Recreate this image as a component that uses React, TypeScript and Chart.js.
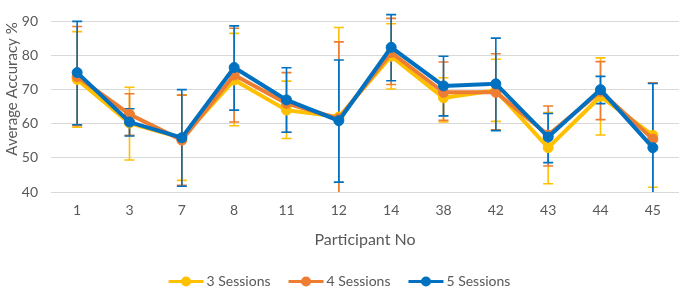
import React, { useEffect, useRef } from "react";
import { Chart, registerables } from "chart.js";

Chart.register(...registerables);

const categories = ["1", "3", "7", "8", "11", "12", "14", "38", "42", "43", "44", "45"];
const seriesNames = ["3 Sessions", "4 Sessions", "5 Sessions"];
const seriesColors = ["#FFC000", "#ED7D31", "#0070C0"];

const s3 = [73, 60.2, 55.8, 72.8, 64, 62, 79.8, 67.6, 69.8, 53, 68, 56.6];
const s4 = [73.8, 62.8, 55.2, 74.3, 66, 61.5, 80.9, 69.2, 69.2, 56.7, 69.5, 55.5];
const s5 = [75, 60.5, 55.9, 76.5, 67, 60.9, 82.4, 71.1, 71.7, 56.1, 70, 53];

const s3Hi = [87, 70.7, 68.5, 86.5, 72.5, 88.2, 89.3, 73.5, 78.9, 63.3, 79.3, 72];
const s3Lo = [59, 49.4, 43.4, 59.4, 55.7, 35, 70.2, 60.5, 60.7, 42.4, 56.7, 41.4];
const s4Hi = [88.5, 68.8, 68.4, 88, 75, 84, 90.9, 78.1, 80.5, 65.2, 78.2, 72];
const s4Lo = [59.5, 56.6, 42, 60.5, 57.5, 38, 71.5, 61, 58.2, 47.6, 61.2, 39];
const s5Hi = [90, 64.4, 70, 88.7, 76.4, 78.7, 92, 79.8, 85.1, 63, 73.9, 71.8];
const s5Lo = [59.7, 56.4, 41.7, 64, 57.5, 42.9, 72.6, 62.3, 58, 48.6, 65.9, 38];

const yTicks = [40, 50, 60, 70, 80, 90];

const values = [s3, s4, s5];
const highs = [s3Hi, s4Hi, s5Hi];
const lows = [s3Lo, s4Lo, s5Lo];

const FONT = "Lato, 'Open Sans', sans-serif";
const TEXT = "#595959";

const errorBarPlugin = {
  id: "errorBars",
  beforeDatasetsDraw(chart: any) {
    const { ctx, chartArea } = chart;
    const y = chart.scales.y;
    ctx.save();
    ctx.beginPath();
    ctx.rect(0, 0, chart.width, chartArea.bottom);
    ctx.clip();
    for (let i = 0; i < values.length; i++) {
      const meta = chart.getDatasetMeta(i);
      ctx.strokeStyle = seriesColors[i];
      ctx.lineWidth = 1.6;
      meta.data.forEach((pt: any, j: number) => {
        const px = pt.x;
        const yh = y.getPixelForValue(highs[i][j]);
        const yl = y.getPixelForValue(lows[i][j]);
        ctx.beginPath();
        ctx.moveTo(px, yh);
        ctx.lineTo(px, yl);
        ctx.moveTo(px - 5, yh);
        ctx.lineTo(px + 5, yh);
        ctx.moveTo(px - 5, yl);
        ctx.lineTo(px + 5, yl);
        ctx.stroke();
      });
    }
    ctx.restore();
  },
};

const textPlugin = {
  id: "customText",
  afterDraw(chart: any) {
    const { ctx } = chart;
    ctx.save();
    ctx.font = `15px ${FONT}`;
    ctx.fillStyle = TEXT;
    ctx.textAlign = "center";
    ctx.textBaseline = "middle";
    ctx.translate(12, 89);
    ctx.rotate(-Math.PI / 2);
    ctx.fillText("Average Accuracy %", 0, 0);
    ctx.restore();

    ctx.save();
    ctx.font = `14px ${FONT}`;
    const lineW = 35;
    const gapText = 3;
    const gapItem = 18;
    const widths = seriesNames.map((n) => ctx.measureText(n).width);
    const total =
      widths.reduce((a, b) => a + b, 0) + seriesNames.length * (lineW + gapText) + gapItem * (seriesNames.length - 1);
    let x = 339.5 - total / 2;
    const yc = 281.5;
    seriesNames.forEach((name, i) => {
      ctx.strokeStyle = seriesColors[i];
      ctx.lineWidth = 3;
      ctx.beginPath();
      ctx.moveTo(x, yc);
      ctx.lineTo(x + lineW, yc);
      ctx.stroke();
      ctx.fillStyle = seriesColors[i];
      ctx.beginPath();
      ctx.arc(x + lineW / 2, yc, 5, 0, Math.PI * 2);
      ctx.fill();
      x += lineW + gapText;
      ctx.fillStyle = TEXT;
      ctx.textBaseline = "middle";
      ctx.textAlign = "left";
      ctx.fillText(name, x, yc);
      x += widths[i] + gapItem;
    });
    ctx.restore();
  },
};

export default function App() {
  const ref = useRef<HTMLCanvasElement | null>(null);
  useEffect(() => {
    if (!ref.current) return;
    const chart = new Chart(ref.current, {
      type: "line",
      data: {
        labels: categories,
        datasets: values.map((v, i) => ({
          label: seriesNames[i],
          data: v,
          borderColor: seriesColors[i],
          backgroundColor: seriesColors[i],
          pointBackgroundColor: seriesColors[i],
          pointBorderColor: seriesColors[i],
          borderWidth: 4,
          pointRadius: 5,
          pointBorderWidth: 1,
          tension: 0,
          order: 2 - i,
        })),
      },
      options: {
        animation: false,
        responsive: false,
        maintainAspectRatio: false,
        layout: { padding: { top: 10, right: 0, bottom: 36, left: 0 } },
        plugins: { legend: { display: false }, tooltip: { enabled: false } },
        scales: {
          x: {
            offset: true,
            grid: { display: false, drawTicks: false },
            border: { display: false },
            ticks: { color: TEXT, font: { family: FONT, size: 14 }, padding: 10, maxRotation: 0, autoSkip: false },
            title: {
              display: true,
              text: "Participant No",
              color: TEXT,
              font: { family: FONT, size: 16 },
              padding: { top: 0, bottom: 3 },
            },
            afterFit(scale: any) {
              scale.height = 60;
            },
          },
          y: {
            min: 40,
            max: 90,
            afterBuildTicks(scale: any) {
              scale.ticks = yTicks.map((v) => ({ value: v }));
            },
            grid: { color: "#D9D9D9", lineWidth: 1, drawTicks: false },
            border: { display: false },
            ticks: { color: TEXT, font: { family: FONT, size: 14 }, padding: 13 },
            title: { display: false },
            afterFit(scale: any) {
              scale.width = 51;
            },
          },
        },
      },
      plugins: [errorBarPlugin, textPlugin],
    });
    return () => chart.destroy();
  }, []);
  return (
    <div style={{ position: "fixed", left: 0, top: 0, width: 685, height: 288, background: "#fff" }}>
      <canvas ref={ref} width={685} height={288} style={{ width: 685, height: 288 }} />
    </div>
  );
}
